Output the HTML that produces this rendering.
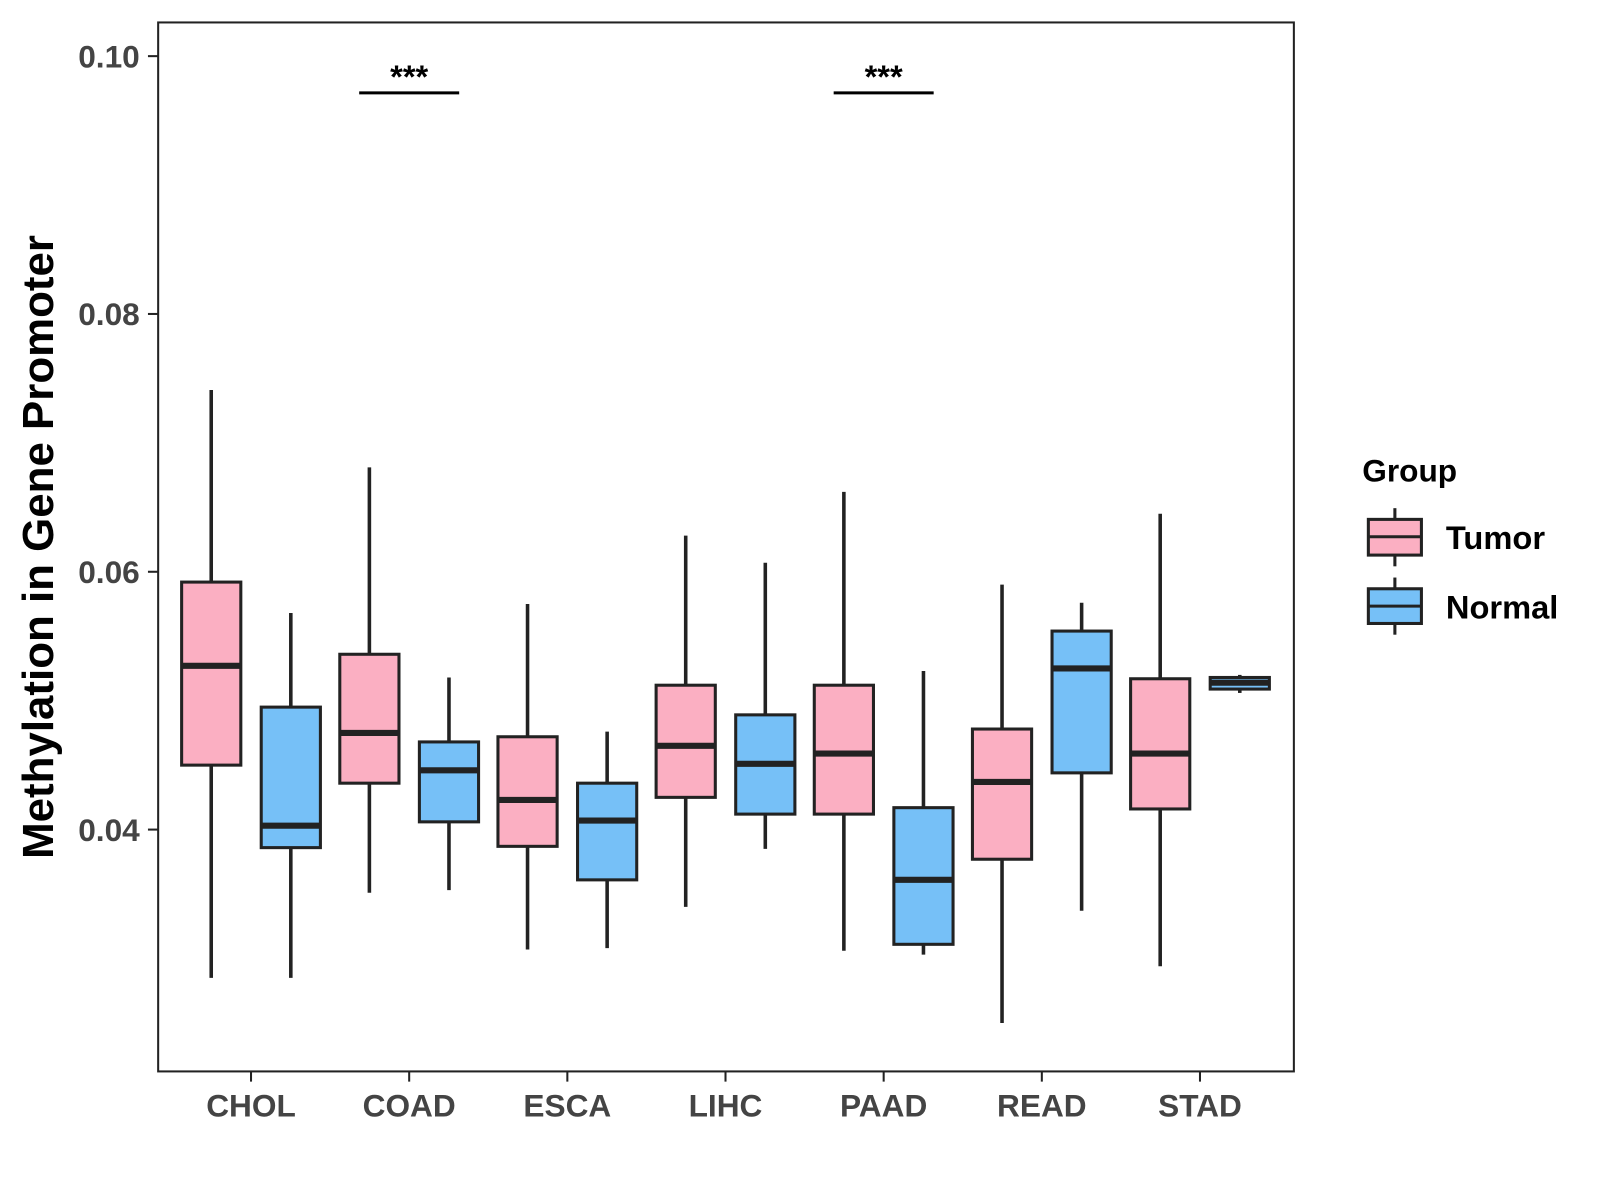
<!DOCTYPE html>
<html><head><meta charset="utf-8"><style>
html,body{margin:0;padding:0;background:#fff;}
svg{display:block;font-family:"Liberation Sans",Arial,sans-serif;}
</style></head><body>
<svg id="chart" width="1600" height="1200" viewBox="0 0 1600 1200">
<g transform="scale(1.0204)">
<rect x="155" y="22" width="1113" height="1028" fill="#fff" stroke="#222" stroke-width="2"/>
<g id="marks"></g>
<g id="axes"></g>
<text x="52" y="536" transform="rotate(-90 52 536)" text-anchor="middle" font-size="43" font-weight="bold" fill="#000">Methylation in Gene Promoter</text>
<g>
<text x="1335" y="472" font-size="31" font-weight="bold" fill="#000">Group</text>
<g>
<line x1="1367" y1="498" x2="1367" y2="555" stroke="#222" stroke-width="3"/>
<rect x="1341" y="509" width="52" height="35" fill="#fbafc2" stroke="#222" stroke-width="3"/>
<line x1="1341" y1="526" x2="1393" y2="526" stroke="#222" stroke-width="3"/>
<text x="1417" y="538" font-size="32" font-weight="bold" fill="#000">Tumor</text>
</g>
<g>
<line x1="1367" y1="566" x2="1367" y2="622" stroke="#222" stroke-width="3"/>
<rect x="1341" y="577" width="52" height="34" fill="#76c0f7" stroke="#222" stroke-width="3"/>
<line x1="1341" y1="594" x2="1393" y2="594" stroke="#222" stroke-width="3"/>
<text x="1417" y="606" font-size="32" font-weight="bold" fill="#000">Normal</text>
</g>
</g>
</g>
</svg>
<script>
const categories = ["CHOL","COAD","ESCA","LIHC","PAAD","READ","STAD"];
// [whiskerLow, Q1, median, Q3, whiskerHigh]
const tumorStats = [
 [0.0285,0.0450,0.0527,0.0592,0.0741],
 [0.0351,0.0436,0.0475,0.0536,0.0681],
 [0.0307,0.0387,0.0423,0.0472,0.0575],
 [0.0340,0.0425,0.0465,0.0512,0.0628],
 [0.0306,0.0412,0.0459,0.0512,0.0662],
 [0.0250,0.0377,0.0437,0.0478,0.0590],
 [0.0294,0.0416,0.0459,0.0517,0.0645]
];
const normalStats = [
 [0.0285,0.0386,0.0403,0.0495,0.0568],
 [0.0353,0.0406,0.0446,0.0468,0.0518],
 [0.0308,0.0361,0.0407,0.0436,0.0476],
 [0.0385,0.0412,0.0451,0.0489,0.0607],
 [0.0303,0.0311,0.0361,0.0417,0.0523],
 [0.0337,0.0444,0.0525,0.0554,0.0576],
 [0.0506,0.0509,0.0514,0.0518,0.0520]
];
const yTicks = [0.04,0.06,0.08,0.10];
const yTickLabels = ["0.04","0.06","0.08","0.10"];
const sigCategories = ["COAD","PAAD"];
const sigLabels = ["***","***"];

const NS="http://www.w3.org/2000/svg";
function y(v){return 813-(v-0.04)*12633;}
function x(i){return 246+i*155;}
function mk(tag,attrs,parent){const e=document.createElementNS(NS,tag);for(const k in attrs)e.setAttribute(k,attrs[k]);parent.appendChild(e);return e;}
const marks=document.getElementById('marks'), axes=document.getElementById('axes');
function drawBox(s,cx,fill,name){
 const g=mk('g',{},marks);
 
 
 const w=58;
 mk('line',{x1:cx,x2:cx,y1:y(s[4]),y2:y(s[0]),stroke:'#222','stroke-width':3.5},g);
 mk('rect',{x:cx-w/2,y:y(s[3]),width:w,height:y(s[1])-y(s[3]),fill:fill,stroke:'#222','stroke-width':3},g);
 mk('line',{x1:cx-w/2,x2:cx+w/2,y1:y(s[2]),y2:y(s[2]),stroke:'#222','stroke-width':6},g);
}
categories.forEach((c,i)=>{
 drawBox(tumorStats[i],x(i)-39,'#fbafc2','box-tumor-'+c.toLowerCase());
 drawBox(normalStats[i],x(i)+39,'#76c0f7','box-normal-'+c.toLowerCase());
 mk('line',{x1:x(i),x2:x(i),y1:1050,y2:1060,stroke:'#222','stroke-width':2},axes);
 const lb=mk('text',{x:x(i),y:1094,'text-anchor':'middle','font-size':31,'font-weight':'bold',fill:'#444'},axes);
 lb.textContent=c;
 
 
});
yTicks.forEach((v,i)=>{
 mk('line',{x1:145,x2:155,y1:y(v),y2:y(v),stroke:'#222','stroke-width':2},axes);
 const lb=mk('text',{x:137,y:y(v)+11,'text-anchor':'end','font-size':31,'font-weight':'bold',fill:'#444'},axes);
 lb.textContent=yTickLabels[i];
 
 
});
sigCategories.forEach((c,k)=>{
 const i=categories.indexOf(c);
 const g=mk('g',{},marks);
 
 
 mk('line',{x1:x(i)-49,x2:x(i)+49,y1:91,y2:91,stroke:'#000','stroke-width':3},g);
 const t=mk('text',{x:x(i),y:86,'text-anchor':'middle','font-size':32,'font-weight':'bold',fill:'#000'},g);
 t.textContent=sigLabels[k];
});
</script>
</body></html>
